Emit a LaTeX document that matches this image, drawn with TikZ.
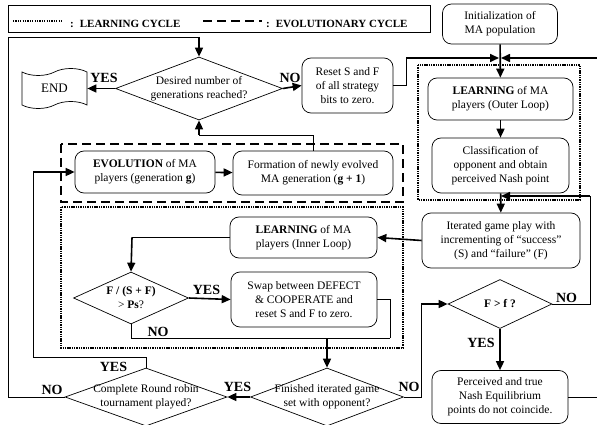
\documentclass[tikz,border=0pt]{standalone}
\usepackage{fontspec}
\setmainfont{Liberation Serif}
\usetikzlibrary{shapes.geometric,shapes.symbols,arrows.meta}

\begin{document}
\begin{tikzpicture}[x=1pt,y=-1pt,font=\fontsize{11.5}{14}\selectfont]
\tikzstyle{box}=[draw,rounded corners=9pt,align=center,inner sep=0pt,line width=0.7pt]
\tikzstyle{dia}=[draw,diamond,inner sep=0pt,line width=0.7pt]
\tikzstyle{yn}=[inner sep=0pt,font=\fontsize{14}{14}\selectfont\bfseries]
\tikzstyle{legtext}=[anchor=west,inner sep=0pt,font=\fontsize{11}{12}\selectfont\bfseries]
\tikzstyle{wire}=[line width=0.7pt]
\tikzstyle{arr}=[line width=1.6pt,-{Triangle[length=9pt,width=8pt]}]
\tikzstyle{dotframe}=[line width=2.4pt,dash pattern=on 1.4pt off 0.9pt]
\tikzstyle{dashframe}=[line width=2.2pt,dash pattern=on 9pt off 5pt]
\useasboundingbox (0,0) rectangle (597,425);
% legend
\node[draw,line width=0.7pt,minimum width=422pt,minimum height=27pt,anchor=north west] (legend) at (8,5) {};
\coordinate (ldot1) at (13,21);
\coordinate (ldot2) at (62,21);
\coordinate (ldash1) at (203,21);
\coordinate (ldash2) at (262,21);
\draw[line width=1.6pt,dash pattern=on 1.2pt off 1.2pt] (ldot1) -- (ldot2);
\draw[dashframe] (ldash1) -- (ldash2);
\node[legtext] (lcycle) at (70,23.5) {:\hspace{6pt}LEARNING CYCLE};
\node[legtext] (ecycle) at (266,23.5) {:\hspace{6pt}EVOLUTIONARY CYCLE};
% frames
\draw[dotframe] (418,65) rectangle (580,200);
\draw[dashframe] (61,144) rectangle (403,202);
\draw[dotframe] (61,207) rectangle (403,348);
% boxes
\foreach \name/\point/\w/\h/\txt in {
	init/{500,24}/115/40/{Initialization of\\MA population},
	reset/{347.5,85.5}/91/55/{Reset S and F\\of all strategy\\bits to zero.},
	lout/{500.5,99}/145/42/{\textbf{LEARNING} of MA\\players (Outer Loop)},
	classif/{500.5,165.5}/137/55/{Classification of\\opponent and obtain\\perceived Nash point},
	iter/{501,240.5}/158/55/{Iterated game play with\\incrementing of “success”\\(S) and “failure” (F)},
	evo/{145,172}/140/42/{\textbf{EVOLUTION} of MA\\players (generation \textbf{g})},
	form/{313,173}/160/44/{Formation of newly evolved\\MA generation (\textbf{g + 1})},
	lin/{303.5,237.5}/147/41/{\textbf{LEARNING} of MA\\players (Inner Loop)},
	swap/{304,299.5}/146/55/{Swap between DEFECT\\\& COOPERATE and\\reset S and F to zero.},
	perc/{500,397}/136/53/{Perceived and true\\Nash Equilibrium\\points do not coincide.}}
	\node[box,minimum width=\w pt,minimum height=\h pt] (\name) at (\point) {\txt};
\node[draw,tape,line width=0.7pt,inner sep=0pt,minimum width=65pt,minimum height=40pt,tape bend height=7pt,font=\fontsize{13}{14}\selectfont] (end) at (54.5,88.5) {END};
% decisions
\node[dia,minimum width=167pt,minimum height=63pt,label={[align=center]center:Desired number of\\generations reached?}] (desired) at (199,88.5) {};
\node[dia,minimum width=115pt,minimum height=52pt,label={[align=center]center:\textbf{F / (S + F)}\\> \textbf{Ps}?}] (fsf) at (131,298) {};
\node[dia,minimum width=104pt,minimum height=49pt,label={center:\textbf{F > f ?}}] (ff) at (500,304) {};
\node[dia,minimum width=153pt,minimum height=58pt,label={[align=center]center:Finished iterated game\\set with opponent?}] (fin) at (327,397) {};
\node[dia,minimum width=162pt,minimum height=58pt,label={[align=center]center:Complete Round robin\\tournament played?}] (comp) at (146,397) {};
% bends
\coordinate (jn) at (500,58);
\coordinate (rj) at (406,58);
\coordinate (rt) at (600,58);
\coordinate (rb) at (600,397);
\coordinate (tl) at (8,37);
\coordinate (tm) at (199,37);
\coordinate (bl) at (8,397);
\coordinate (fj) at (199,135);
\coordinate (lp2) at (33,357);
\coordinate (lp3) at (33,172);
\coordinate (lf) at (132,237.5);
\coordinate (sj) at (390,338);
\coordinate (fj2) at (327,338);
\coordinate (fc) at (421,304);
\coordinate (nr) at (590,196);
\coordinate (cj) at (500,196);
% connectors
\draw[arr] (init) -- (lout);
\draw[wire] (reset.east) -| (rj);
\draw[arr,shorten >=1pt] (rj) -- (jn);
\draw[wire] (perc.east) -- (rb) -- (rt);
\draw[arr,shorten >=1pt] (rt) -- (jn);
\draw[wire] (comp.west) -- (bl) -- (tl) -- (tm);
\draw[arr] (tm) -- (desired.north);
\draw[arr] (desired.west) -- (end.east);
\draw[arr] (desired.east) -- (reset.west);
\draw[wire] (form.north) |- (fj);
\draw[arr] (fj) -- (desired.south);
\draw[arr] (evo) -- (form);
\draw[wire] (comp.north) |- (lp2) -- (lp3);
\draw[arr] (lp3) -- (evo.west);
\draw[arr] (lout) -- (classif);
\draw[arr] (classif) -- (iter);
\draw[arr] (iter.west) -- (lin.east);
\draw[wire] (lin.west) -- (lf);
\draw[arr] (lf) -- (fsf.north);
\draw[arr] (fsf.east) -- (swap.west);
\draw[wire] (fsf.south) |- (sj);
\draw[wire] (swap.east) -| (sj);
\draw[arr] (fj2) -- (fin.north);
\draw[arr] (fin.west) -- (comp.east);
\draw[wire] (fin.east) -| (fc);
\draw[arr] (fc) -- (ff.west);
\draw[wire] (ff.east) -| (nr);
\draw[arr,shorten >=1pt] (nr) -- (cj);
\draw[arr] (ff.south) -- (perc.north);
% answers
\node[yn] (yes1) at (104,78) {YES};
\node[yn] (no1) at (290,78) {NO};
\node[yn] (yes2) at (206.5,289.5) {YES};
\node[yn] (no2) at (158,332) {NO};
\node[yn] (yes3) at (113.5,367) {YES};
\node[yn] (no3) at (52,390) {NO};
\node[yn] (yes4) at (237.5,387) {YES};
\node[yn] (no4) at (409,387) {NO};
\node[yn] (no5) at (566.5,297.5) {NO};
\node[yn] (yes5) at (481,343) {YES};
\end{tikzpicture}
\end{document}
